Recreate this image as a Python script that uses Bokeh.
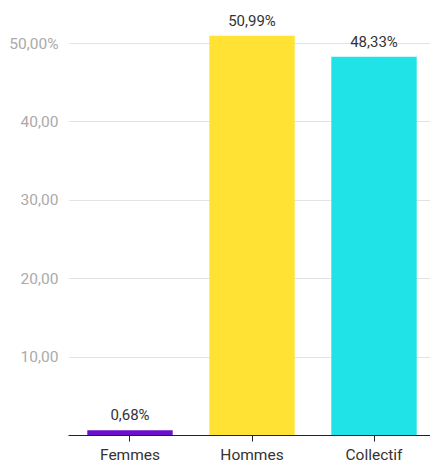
from bokeh.plotting import figure
from bokeh.models import ColumnDataSource, Range1d, FixedTicker, LabelSet
from bokeh.core.properties import value
from bokeh.embed import file_html
from bokeh.resources import INLINE

categories = ["Femmes", "Hommes", "Collectif"]
values = [0.68, 50.99, 48.33]
value_labels = ["0,68%", "50,99%", "48,33%"]
colors = ["#6a0fcb", "#ffe234", "#1fe3e6"]
y_ticks = [10, 20, 30, 40, 50]
y_tick_labels = ["10,00", "20,00", "30,00", "40,00", "50,00%"]

xs = list(range(len(categories)))
src = ColumnDataSource(dict(x=xs, top=values, lab=value_labels, color=colors))

p = figure(width=430, height=466, output_backend="svg", toolbar_location=None,
           x_range=Range1d(-0.504, 2.463), y_range=Range1d(0, 55.5),
           min_border_left=68, min_border_right=0, min_border_top=0, min_border_bottom=0)
p.outline_line_color = None

p.vbar(x="x", top="top", width=0.7, bottom=0, fill_color="color", line_color=None, source=src)

labels = LabelSet(x="x", y="top", text="lab", source=src, text_align="center",
                  text_baseline="bottom", y_offset=6, text_font=value("Roboto"),
                  text_font_size="15px", text_color="#333333",
                  background_fill_color="white")
p.add_layout(labels)

p.xgrid.visible = False
p.ygrid.ticker = FixedTicker(ticks=y_ticks)
p.ygrid.grid_line_color = "#e3e3e3"
p.ygrid.grid_line_width = 1

p.yaxis.ticker = FixedTicker(ticks=y_ticks)
p.yaxis.major_label_overrides = {t: l for t, l in zip(y_ticks, y_tick_labels)}
p.yaxis.axis_line_color = None
p.yaxis.major_tick_line_color = None
p.yaxis.minor_tick_line_color = None
p.yaxis.major_label_text_color = "#aaaaaa"
p.yaxis.major_label_text_font = "Roboto"
p.yaxis.major_label_text_font_size = "15.5px"
p.yaxis.major_label_standoff = 4

p.xaxis.ticker = FixedTicker(ticks=xs)
p.xaxis.major_label_overrides = {x: c for x, c in zip(xs, categories)}
p.xaxis.axis_line_color = "#222222"
p.xaxis.axis_line_width = 1
p.xaxis.major_tick_line_color = "#222222"
p.xaxis.major_tick_in = 0
p.xaxis.major_tick_out = 6
p.xaxis.minor_tick_line_color = None
p.xaxis.major_label_text_color = "#333333"
p.xaxis.major_label_text_font = "Roboto"
p.xaxis.major_label_text_font_size = "15.5px"
p.xaxis.major_label_standoff = 4

open("out.html", "w").write(file_html(p, INLINE))
